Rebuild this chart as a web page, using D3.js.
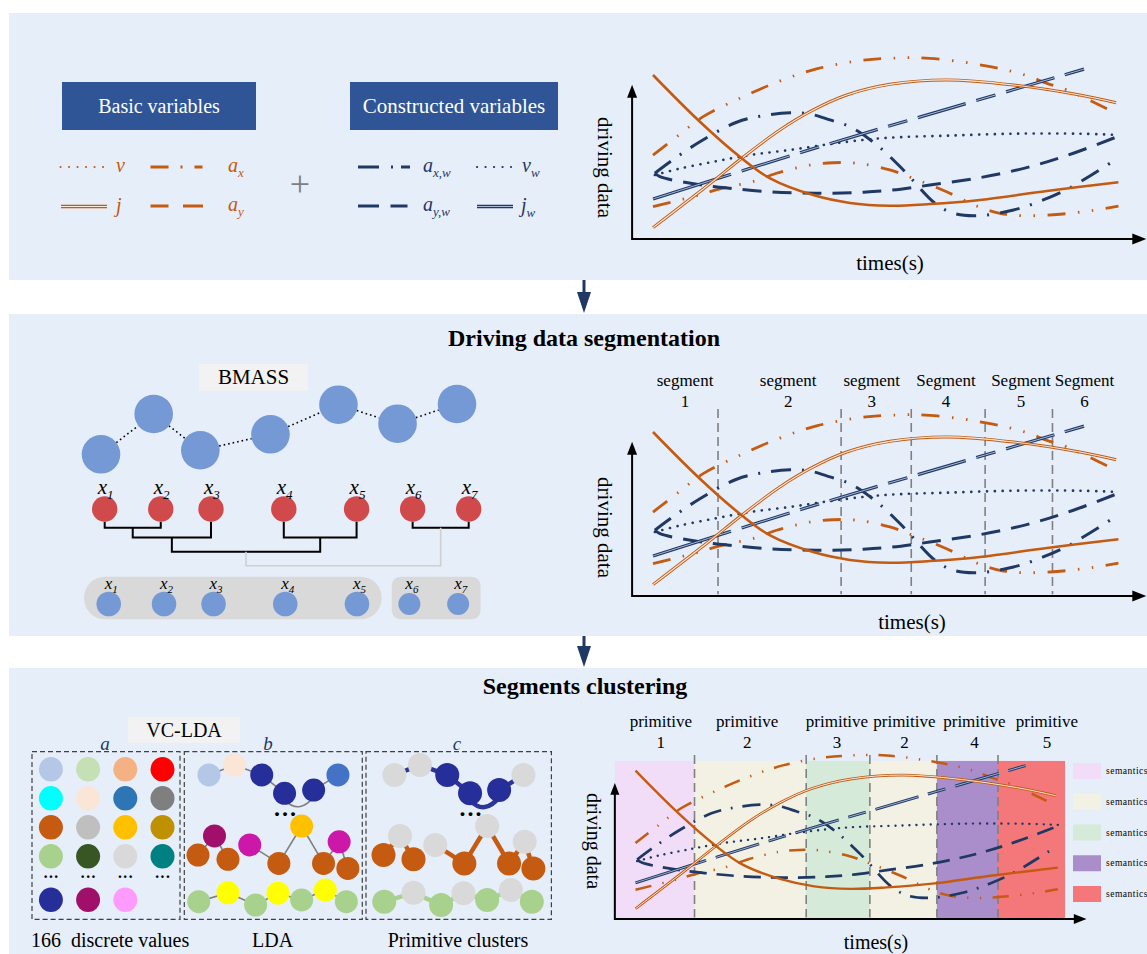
<!DOCTYPE html>
<html>
<head>
<meta charset="utf-8">
<script src="https://cdnjs.cloudflare.com/ajax/libs/d3/7.8.5/d3.min.js"></script>
<style>
  body { margin: 0; background: #fff; }
  svg { display: block; font-family: "Liberation Serif", "Times New Roman", serif; }
</style>
</head>
<body>
<div id="vis"></div>
<script>
var width = 1147;
var height = 954;

var orange = "#C55A11";
var navy = "#1F3864";
var panelFill = "#E6EEF9";

// driving data curves, [time, value]
var orangeSolid = [[0,10.0],[1.01,7.15],[1.91,4.92],[2.52,3.70],[3.45,2.68],[4.24,2.20],[5.10,2.03],[5.96,2.13],[7.04,2.38],[8.48,2.93],[10.02,3.46]];
var orangeDouble = [[0,0.69],[1.19,3.29],[1.91,4.92],[2.73,6.65],[3.45,7.87],[4.17,8.78],[5.10,9.43],[6.32,9.70],[7.76,9.39],[9.19,8.78],[9.97,8.31]];
var orangeUpper = [[0,5.12],[0.54,6.30],[1.08,7.46],[1.87,8.58],[2.73,9.63],[3.52,10.37],[4.39,10.85],[5.10,11.02],[5.96,11.02],[7.26,10.51],[8.05,9.96],[8.48,9.49],[8.91,9.09],[9.82,7.87]];
var orangeLower = [[0,1.97],[0.94,2.64],[1.44,3.05],[2.20,3.54],[2.66,4.01],[3.38,4.51],[3.88,4.65],[4.39,4.62],[5.10,4.21],[5.60,3.70],[6.32,2.88],[7.04,1.93],[7.47,1.57],[7.97,1.42],[8.76,1.51],[9.48,1.75],[10.02,2.01]];
var navyDashDot = [[0.04,4.01],[0.37,4.71],[1.01,5.93],[1.80,7.12],[2.37,7.52],[2.95,7.70],[3.38,7.62],[3.81,7.26],[4.28,6.79],[4.82,5.73],[5.39,4.21],[6.07,2.18],[6.47,1.57],[6.97,1.42],[7.76,1.77],[8.40,2.38],[8.98,3.13],[9.84,4.62]];
var navyDotted = [[0.04,3.90],[0.54,4.27],[1.30,4.71],[2.09,5.12],[2.95,5.43],[3.81,5.79],[4.53,6.04],[5.10,6.18],[6.32,6.30],[7.76,6.42],[9.19,6.42],[10.04,6.34]];
var navyDashed = [[0.04,4.01],[0.15,3.80],[0.94,3.34],[1.66,3.09],[2.52,2.88],[3.52,2.79],[4.53,2.85],[5.10,2.97],[5.96,3.29],[7.04,3.74],[8.12,4.41],[9.05,5.23],[10.05,6.30]];
var navyDouble = [[0,2.44],[3.52,5.57],[6.68,8.21],[9.39,10.45]];

// segmentation / primitives
var segmentCuts = [1.40, 4.05, 5.56, 7.15, 8.60];
var segmentNames = ["segment", "segment", "segment", "Segment", "Segment", "Segment"];
var segmentNums = ["1", "2", "3", "4", "5", "6"];
var segmentLabelT = [0.69, 2.91, 4.71, 6.31, 7.92, 9.29];

var bandEdges = [-0.49, 1.40, 4.05, 5.56, 7.15, 8.60, 10.19];
var primitiveIds = ["1", "2", "3", "2", "4", "5"];
var primitiveLabelT = [0.60, 2.65, 4.78, 6.38, 8.04, 9.76];
var bandColors = ["#F2DDF8", "#F2F1E4", "#D6EAD9", "#F2F1E4", "#A98ECB", "#F4777A"];
var semanticColors = ["#F2DDF8", "#F2F1E4", "#D6EAD9", "#A98ECB", "#F4777A"];

// BMASS
var bmassPos = [0, 1.48, 2.79, 4.76, 6.67, 8.33, 10];
var bmassVal = [0.95, 7.67, 1.62, 4.28, 9.22, 6.05, 9.33];
var leafPos = [0, 1.54, 2.92, 4.92, 6.92, 8.46, 10];
var groupPos = [0.11, 1.63, 2.99, 4.96, 6.93, 8.37, 9.71];
var groupOf = [0, 0, 0, 0, 0, 1, 1];
// [childA, childB, level]; new ids start at 7
var merges = [[0,1,1],[7,2,2],[3,4,2],[8,9,3],[5,6,1],[10,11,4]];

// VC-LDA
var discreteColors = [
  ["#B4C7E7", "#C5E0B4", "#F4B183", "#FF0000"],
  ["#00FFFF", "#FBE5D6", "#2E75B6", "#7F7F7F"],
  ["#C55A11", "#BFBFBF", "#FFC000", "#BF9000"],
  ["#A9D18E", "#375623", "#D9D9D9", "#008080"],
  ["#262E9A", "#A0106A", "#FF9BFF"]
];
var discreteRows = [0, 1, 2, 3, 4.5];

var chainTopU = [0.73, 2.43, 4.25, 5.77, 7.71, 9.33];
var chainTopW = [9.29, 10, 9.29, 7.98, 8.21, 9.29];
var chainTopColors = ["#B4C7E7", "#FBE5D6", "#262E9A", "#262E9A", "#262E9A", "#4472C4"];
var chainTopMember = [0, 0, 1, 1, 1, 0];
var chainMidU = [0, 1.1, 2.0, 3.45, 5.39, 6.91, 8.37, 9.41, 9.99];
var chainMidW = [3.57, 4.93, 3.26, 4.29, 2.97, 5.64, 2.97, 4.51, 2.61];
var chainMidColors = ["#C55A11", "#A0106A", "#C55A11", "#CC17A8", "#C55A11", "#FFC000", "#C55A11", "#CC17A8", "#C55A11"];
var chainMidMember = [1, 0, 1, 0, 1, 0, 1, 0, 1];
var chainLowU = [0.05, 2.0, 3.84, 5.33, 6.91, 8.49, 9.89];
var chainLowW = [0.24, 0.87, 0, 0.84, 0.36, 1.07, 0.24];
var chainLowColors = ["#A9D18E", "#FFFF00", "#A9D18E", "#FFFF00", "#A9D18E", "#FFFF00", "#A9D18E"];
var chainLowMember = [1, 0, 1, 0, 1, 0, 1];

var styles = {
  solid:   {w: 2.6},
  dashDot2:{w: 2.8, dash: [18,12.5,1.5,12.5,1.5,12.5]},
  dashDot: {w: 3, dash: [20,11,2,11]},
  dotted:  {w: 2.6, dash: [0.1,7.7], cap: "round"},
  dashed:  {w: 3, dash: [19,11]},
  double:  {w: 3.0, inner: 1.1},
  doubleDash: {w: 3.2, inner: 1.0, dash: [82,11,50,11,20,11,50,11,20,11,50,11,20,11,50,11,20,11]}
};

var curves = [
  {data: orangeUpper, color: orange, style: "dashDot2"},
  {data: orangeLower, color: orange, style: "dashDot2"},
  {data: navyDashed, color: navy, style: "dashed"},
  {data: navyDotted, color: navy, style: "dotted"},
  {data: navyDashDot, color: navy, style: "dashDot"},
  {data: navyDouble, color: navy, style: "doubleDash", inner: "#A9BBDD"},
  {data: orangeDouble, color: orange, style: "double", inner: "#F7EADF"},
  {data: orangeSolid, color: orange, style: "solid"}
];

var svg = d3.select("#vis").append("svg")
  .attr("width", width)
  .attr("height", height);

// panels
[[13, 280], [314, 636], [668, 954]].forEach(function (p) {
  svg.append("rect").attr("x", 9).attr("y", p[0]).attr("width", width - 9)
    .attr("height", p[1] - p[0]).attr("fill", panelFill);
});

// arrows between panels
[[280, 313], [636, 667]].forEach(function (a) {
  svg.append("line").attr("x1", 584).attr("x2", 584).attr("y1", a[0]).attr("y2", a[1] - 18)
    .attr("stroke", "#1F3864").attr("stroke-width", 3);
  svg.append("path").attr("d", "M577," + (a[1] - 21) + " L591," + (a[1] - 21) + " L584," + a[1] + " Z")
    .attr("fill", "#1F3864");
});

function strokePath(g, d, color, st, k, innerColor) {
  var dash = st.dash ? st.dash.map(function (v) { return v * k; }).join(",") : null;
  g.append("path").attr("d", d).attr("fill", "none")
    .attr("stroke", color).attr("stroke-width", st.w * k)
    .attr("stroke-dasharray", dash)
    .attr("stroke-linecap", st.cap || "butt");
  if (st.inner) {
    g.append("path").attr("d", d).attr("fill", "none")
      .attr("stroke", innerColor).attr("stroke-width", st.inner * k)
      .attr("stroke-dasharray", dash);
  }
}

function curveChart(o) {
  var g = svg.append("g");
  var k = o.k;
  var x = d3.scaleLinear().domain([0, 10]).range([o.left, o.right]);
  var y = d3.scaleLinear().domain([0, 10]).range([o.base, o.base - 10 * o.unit]);
  var line = d3.line().curve(d3.curveCatmullRom.alpha(0.5))
    .x(function (d) { return x(d[0]); })
    .y(function (d) { return y(d[1]); });

  if (o.bands) {
    g.selectAll("rect.band").data(bandColors).enter().append("rect")
      .attr("x", function (d, i) { return x(bandEdges[i]); })
      .attr("width", function (d, i) { return x(bandEdges[i + 1]) - x(bandEdges[i]); })
      .attr("y", y(o.bandTop)).attr("height", y(0) - y(o.bandTop))
      .attr("fill", function (d) { return d; });
  }
  g.selectAll("line.cut").data(segmentCuts).enter().append("line")
    .attr("x1", function (d) { return x(d); }).attr("x2", function (d) { return x(d); })
    .attr("y1", y(o.cutTop)).attr("y2", y(0.1))
    .attr("stroke", "#808080").attr("stroke-width", 1.6).attr("stroke-dasharray", "9,5")
    .attr("display", o.cutTop ? null : "none");

  curves.forEach(function (c) {
    strokePath(g, line(c.data), c.color, styles[c.style], k, c.inner);
  });

  // axes with arrow heads
  var ox = x(o.tMin), oy = y(0), xe = x(o.tMax), yt = y(o.vMax);
  g.append("line").attr("x1", ox).attr("y1", oy).attr("x2", xe - 10).attr("y2", oy)
    .attr("stroke", "#000").attr("stroke-width", 2);
  g.append("line").attr("x1", ox).attr("y1", oy + 1).attr("x2", ox).attr("y2", yt + 10)
    .attr("stroke", "#000").attr("stroke-width", 2);
  g.append("path").attr("d", "M" + xe + "," + oy + " L" + (xe - 14 * k) + "," + (oy - 5.5 * k) + " L" + (xe - 14 * k) + "," + (oy + 5.5 * k) + " Z");
  g.append("path").attr("d", "M" + ox + "," + yt + " L" + (ox - 5 * k) + "," + (yt + 13 * k) + " L" + (ox + 5 * k) + "," + (yt + 13 * k) + " Z");

  g.append("text").attr("transform", "translate(" + o.ylab[0] + "," + o.ylab[1] + ") rotate(90)")
    .attr("text-anchor", "middle").attr("font-size", o.fs).text("driving data");
  g.append("text").attr("x", o.xlab[0]).attr("y", o.xlab[1])
    .attr("text-anchor", "middle").attr("font-size", o.fs).text("times(s)");

  if (o.segLabels) {
    var lab = g.selectAll("text.seg").data(segmentNames).enter().append("text")
      .attr("text-anchor", "middle").attr("font-size", 17);
    lab.append("tspan").attr("x", function (d, i) { return x(segmentLabelT[i]); }).attr("y", o.labY)
      .text(function (d) { return d; });
    lab.append("tspan").attr("x", function (d, i) { return x(segmentLabelT[i]); }).attr("y", o.labY + 21)
      .text(function (d, i) { return segmentNums[i]; });
  }
  if (o.bands) {
    var plab = g.selectAll("text.prim").data(primitiveIds).enter().append("text")
      .attr("text-anchor", "middle").attr("font-size", 17);
    plab.append("tspan").attr("x", function (d, i) { return x(primitiveLabelT[i]); }).attr("y", o.labY)
      .text("primitive");
    plab.append("tspan").attr("x", function (d, i) { return x(primitiveLabelT[i]); }).attr("y", o.labY + 21)
      .text(function (d) { return d; });

    var ly = d3.scaleLinear().domain([0, 4]).range([771, 894]);
    g.selectAll("rect.sem").data(semanticColors).enter().append("rect")
      .attr("x", 1073).attr("width", 28).attr("height", 16)
      .attr("y", function (d, i) { return ly(i) - 8; })
      .attr("fill", function (d) { return d; });
    g.selectAll("text.sem").data(semanticColors).enter().append("text")
      .attr("x", 1106).attr("y", function (d, i) { return ly(i) + 3; })
      .attr("font-size", 9.5).attr("letter-spacing", 0.5).text("semantics");
  }
}

curveChart({left: 653, right: 1117.5, base: 239, unit: 16.4, k: 1, tMin: -0.45, tMax: 10.62, vMax: 9.4,
  ylab: [598, 167.5], xlab: [890, 270], fs: 21});
curveChart({left: 653, right: 1117.5, base: 596, unit: 16.4, k: 1, tMin: -0.45, tMax: 10.62, vMax: 9.4,
  ylab: [598, 527.5], xlab: [912, 629], fs: 21, cutTop: 11.4, segLabels: true, labY: 386});
curveChart({left: 635.5, right: 1057, base: 919, unit: 14.84, k: 0.905, tMin: -0.49, tMax: 10.7, vMax: 9.16,
  ylab: [587, 841], xlab: [876, 949], fs: 20, bands: true, bandTop: 10.65, cutTop: 11.05, labY: 727});

// ---- top-left legend
function boxLabel(x, y, w, h, fill, txt, color, fs) {
  svg.append("rect").attr("x", x).attr("y", y).attr("width", w).attr("height", h).attr("fill", fill);
  svg.append("text").attr("x", x + w / 2).attr("y", y + h / 2 + fs * 0.33).attr("text-anchor", "middle")
    .attr("font-size", fs).attr("fill", color).text(txt);
}
boxLabel(62, 82, 194, 48, "#2F5597", "Basic variables", "#fff", 20);
boxLabel(350, 82, 208, 48, "#2F5597", "Constructed variables", "#fff", 21);

var legendItems = [
  {x1: 60.5, x2: 104, y: 167, color: orange, st: {w: 2, dash: [0.1, 8.4], cap: "round"}, lx: 116, main: "v", sub: ""},
  {x1: 150.5, x2: 203, y: 167, color: orange, st: {w: 3, dash: [18, 12, 2, 12, 8, 20]}, lx: 228, main: "a", sub: "x"},
  {x1: 61, x2: 107, y: 206.5, color: orange, st: {w: 3.4, inner: 1.0}, inner: "#F7EADF", lx: 116, main: "j", sub: ""},
  {x1: 150.5, x2: 203, y: 206, color: orange, st: {w: 3, dash: [18, 14.5, 20, 20]}, lx: 228, main: "a", sub: "y"},
  {x1: 358, x2: 410.5, y: 167, color: navy, st: {w: 3, dash: [21, 12, 2, 8, 9, 20]}, lx: 423, main: "a", sub: "x,w"},
  {x1: 477, x2: 511, y: 167, color: navy, st: {w: 2.2, dash: [0.1, 8.4], cap: "round"}, lx: 522, main: "v", sub: "w"},
  {x1: 358, x2: 408, y: 206, color: navy, st: {w: 3, dash: [21, 11.5, 17, 20]}, lx: 423, main: "a", sub: "y,w"},
  {x1: 477, x2: 513, y: 206.5, color: navy, st: {w: 3.4, inner: 1}, inner: "#A9BBDD", lx: 521, main: "j", sub: "w"}
];
legendItems.forEach(function (it) {
  strokePath(svg, "M" + it.x1 + "," + it.y + " H" + it.x2, it.color, it.st, 1, it.inner);
  var t = svg.append("text").attr("x", it.lx).attr("y", Math.round(it.y) + 4.5).attr("fill", it.color)
    .attr("font-style", "italic").attr("font-size", 20);
  t.append("tspan").text(it.main);
  if (it.sub) t.append("tspan").attr("dy", 5).attr("font-size", 13).text(it.sub);
});
svg.append("text").attr("x", 300).attr("y", 196).attr("text-anchor", "middle")
  .attr("font-size", 36).attr("fill", "#7F7F7F").text("+");

// ---- titles
svg.append("text").attr("x", 584).attr("y", 346).attr("text-anchor", "middle")
  .attr("font-size", 24).attr("font-weight", "bold").text("Driving data segmentation");
svg.append("text").attr("x", 585).attr("y", 694).attr("text-anchor", "middle")
  .attr("font-size", 24).attr("font-weight", "bold").text("Segments clustering");

// ---- BMASS
boxLabel(199, 364, 109, 27, "#F2F2F2", "BMASS", "#000", 21);
var bx = d3.scaleLinear().domain([0, 10]).range([101, 457]);
var by = d3.scaleLinear().domain([0, 10]).range([460, 400]);
var bR = 19.3;
bmassPos.forEach(function (p, i) {
  if (i === 0) return;
  var x1 = bx(bmassPos[i - 1]), y1 = by(bmassVal[i - 1]), x2 = bx(p), y2 = by(bmassVal[i]);
  var L = Math.hypot(x2 - x1, y2 - y1), ux = (x2 - x1) / L, uy = (y2 - y1) / L;
  svg.append("line").attr("x1", x1 + ux * bR).attr("y1", y1 + uy * bR)
    .attr("x2", x2 - ux * bR).attr("y2", y2 - uy * bR)
    .attr("stroke", "#000").attr("stroke-width", 1.6).attr("stroke-dasharray", "1.6,3");
});
svg.selectAll("circle.bm").data(bmassPos).enter().append("circle")
  .attr("cx", function (d) { return bx(d); })
  .attr("cy", function (d, i) { return by(bmassVal[i]); })
  .attr("r", bR).attr("fill", "#7599D4");

var lx = d3.scaleLinear().domain([0, 10]).range([104.7, 468.7]);
var level = d3.scaleLinear().domain([0, 1, 2, 3, 4]).range([521.7, 527.7, 537.5, 551.7, 565.7]);
var nodes = leafPos.map(function (p) { return {x: lx(p), lv: 0}; });
merges.forEach(function (m, i) {
  var a = nodes[m[0]], b = nodes[m[1]];
  svg.append("path")
    .attr("d", "M" + a.x + "," + level(a.lv) + " V" + level(m[2]) + " H" + b.x + " V" + level(b.lv))
    .attr("fill", "none")
    .attr("stroke", i === merges.length - 1 ? "#D0D0D0" : "#000")
    .attr("stroke-width", i === merges.length - 1 ? 1.6 : 2);
  nodes.push({x: (a.x + b.x) / 2, lv: m[2]});
});
svg.selectAll("circle.leaf").data(leafPos).enter().append("circle")
  .attr("cx", function (d) { return lx(d); }).attr("cy", 509)
  .attr("r", 12.7).attr("fill", "#D04A4C");

function xLabel(x, y, i, fs, sfs) {
  var t = svg.append("text").attr("x", x).attr("y", y).attr("font-style", "italic").attr("font-size", fs);
  t.append("tspan").text("x");
  t.append("tspan").attr("dy", fs * 0.22).attr("font-size", sfs).text(i + 1);
}
leafPos.forEach(function (p, i) { xLabel(lx(p) - 7, 494, i, 21, 13); });

// groups
var groupPad = [[24.7, 24.7], [17.6, 22.4]];
[0, 1].forEach(function (gi) {
  var xs = groupPos.filter(function (d, i) { return groupOf[i] === gi; }).map(lx);
  var x0 = d3.min(xs) - groupPad[gi][0], x1 = d3.max(xs) + groupPad[gi][1];
  svg.append("rect").attr("x", x0).attr("y", 576.7).attr("width", x1 - x0).attr("height", 42.6)
    .attr("rx", gi === 0 ? 21 : 9).attr("fill", "#D9D9D9");
});
svg.selectAll("circle.grp").data(groupPos).enter().append("circle")
  .attr("cx", function (d) { return lx(d); }).attr("cy", 604)
  .attr("r", function (d, i) { return groupOf[i] === 0 ? 12.3 : 11; })
  .attr("fill", "#7599D4");
groupPos.forEach(function (p, i) { xLabel(lx(p) - 4, 589, i, 17, 11); });

// ---- VC-LDA
boxLabel(128, 717, 112, 26, "#F2F2F2", "VC-LDA", "#000", 20);
[[32, 148, "a", 105], [184.3, 178, "b", 268], [366, 185.4, "c", 457]].forEach(function (b) {
  svg.append("rect").attr("x", b[0]).attr("y", 751.7).attr("width", b[1]).attr("height", 167.6)
    .attr("fill", "none").attr("stroke", "#404040").attr("stroke-width", 1.2).attr("stroke-dasharray", "5,3");
  svg.append("text").attr("x", b[3]).attr("y", 750).attr("text-anchor", "middle")
    .attr("font-style", "italic").attr("font-size", 19).attr("fill", navy).text(b[2]);
});

var gx = d3.scaleLinear().domain([0, 3]).range([50.9, 162.5]);
var gy = d3.scaleLinear().domain([0, 1]).range([769.3, 798.3]);
discreteColors.forEach(function (row, r) {
  svg.selectAll(null).data(row).enter().append("ellipse")
    .attr("cx", function (d, c) { return gx(c); }).attr("cy", gy(discreteRows[r]))
    .attr("rx", 12).attr("ry", 12.2).attr("fill", function (d) { return d; });
});
svg.selectAll("text.gdots").data(discreteColors[0]).enter().append("text")
  .attr("x", function (d, c) { return gx(c); }).attr("y", gy(3.75) + 4)
  .attr("text-anchor", "middle").attr("font-size", 16).attr("font-weight", "bold").text("···");

function chainBox(offset, clustered) {
  var cx = d3.scaleLinear().domain([0, 10]).range([198 + offset, 348 + offset]);
  var cy = d3.scaleLinear().domain([0, 10]).range([905, 765]);
  var r = clustered ? 12 : 11.5;
  var chains = [
    {u: chainTopU, w: chainTopW, col: chainTopColors, mem: chainTopMember, link: "#2B3497", skip: -1, arc: 3},
    {u: chainMidU, w: chainMidW, col: chainMidColors, mem: chainMidMember, link: orange, skip: 2, arc: -1},
    {u: chainLowU, w: chainLowW, col: chainLowColors, mem: chainLowMember, link: "#A9D18E", skip: -1, arc: -1}
  ];
  chains.forEach(function (ch) {
    var lc = clustered ? ch.link : "#7F7F7F", lw = clustered ? 4.5 : 1.6;
    for (var i = 0; i < ch.u.length - 1; i++) {
      if (i === ch.skip) continue;
      var x1 = cx(ch.u[i]), y1 = cy(ch.w[i]), x2 = cx(ch.u[i + 1]), y2 = cy(ch.w[i + 1]);
      var d = i === ch.arc
        ? "M" + x1 + "," + (y1 + r * 0.6) + " Q" + (x1 + x2) / 2 + "," + (Math.max(y1, y2) + r + 10) + " " + x2 + "," + (y2 + r * 0.6)
        : "M" + x1 + "," + y1 + " L" + x2 + "," + y2;
      svg.append("path").attr("d", d).attr("fill", "none").attr("stroke", lc).attr("stroke-width", lw);
    }
    svg.selectAll(null).data(ch.u).enter().append("circle")
      .attr("cx", function (d) { return cx(d); })
      .attr("cy", function (d, i) { return cy(ch.w[i]); })
      .attr("r", r)
      .attr("fill", function (d, i) { return clustered && !ch.mem[i] ? "#D9D9D9" : ch.col[i]; });
  });
  svg.append("text").attr("x", cx(5.8)).attr("y", 822).attr("text-anchor", "middle")
    .attr("font-size", 24).attr("font-weight", "bold").text("···");
}
chainBox(0, false);
chainBox(185.5, true);

svg.append("text").attr("x", 31).attr("y", 947).attr("font-size", 20).text("166\u00A0 discrete values");
svg.append("text").attr("x", 272.6).attr("y", 947).attr("text-anchor", "middle").attr("font-size", 20).text("LDA");
svg.append("text").attr("x", 458).attr("y", 947).attr("text-anchor", "middle").attr("font-size", 20).text("Primitive clusters");
</script>
</body>
</html>
